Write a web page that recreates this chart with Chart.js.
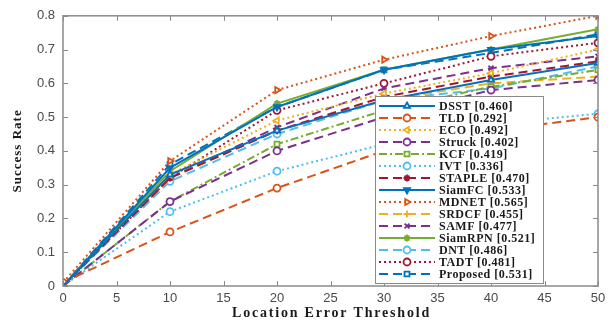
<!DOCTYPE html>
<html>
<head>
<meta charset="utf-8">
<script src="https://cdn.jsdelivr.net/npm/chart.js@4.4.1/dist/chart.umd.min.js"></script>
<style>
html,body{margin:0;padding:0;background:#fff;}
#wrap{width:616px;height:327px;position:relative;}
</style>
</head>
<body>
<div id="wrap"><canvas id="c" width="616" height="327"></canvas></div>
<script>
// Data
const thresholds = [0, 10, 20, 30, 40, 50];
const xTicks = [0, 5, 10, 15, 20, 25, 30, 35, 40, 45, 50];
const yTicks = [0, 0.1, 0.2, 0.3, 0.4, 0.5, 0.6, 0.7, 0.8];
const xTitle = 'Location Error Threshold';
const yTitle = 'Success Rate';
const trackerNames = ['DSST [0.460]','TLD [0.292]','ECO [0.492]','Struck [0.402]','KCF [0.419]','IVT [0.336]','STAPLE [0.470]','SiamFC [0.533]','MDNET [0.565]','SRDCF [0.455]','SAMF [0.477]','SiamRPN [0.521]','DNT [0.486]','TADT [0.481]','Proposed [0.531]'];
const DSST     = [0,    0.33, 0.46, 0.55, 0.61, 0.66];
const TLD      = [0.01, 0.16, 0.29, 0.40, 0.46, 0.50];
const ECO      = [0,    0.33, 0.49, 0.57, 0.63, 0.70];
const Struck   = [0,    0.25, 0.40, 0.50, 0.58, 0.61];
const KCF      = [0,    0.25, 0.42, 0.52, 0.59, 0.64];
const IVT      = [0,    0.22, 0.34, 0.42, 0.48, 0.51];
const STAPLE   = [0,    0.32, 0.46, 0.56, 0.62, 0.665];
const SiamFC   = [0,    0.35, 0.53, 0.64, 0.70, 0.74];
const MDNET    = [0.01, 0.37, 0.58, 0.67, 0.74, 0.80];
const SRDCF    = [0,    0.32, 0.46, 0.55, 0.60, 0.62];
const SAMF     = [0,    0.32, 0.47, 0.585, 0.645, 0.68];
const SiamRPN  = [0,    0.34, 0.54, 0.64, 0.70, 0.76];
const DNT      = [0,    0.31, 0.45, 0.55, 0.585, 0.65];
const TADT     = [0,    0.32, 0.52, 0.60, 0.68, 0.72];
const Proposed = [0,    0.36, 0.53, 0.64, 0.69, 0.745];

const seriesValues = [DSST, TLD, ECO, Struck, KCF, IVT, STAPLE, SiamFC, MDNET, SRDCF, SAMF, SiamRPN, DNT, TADT, Proposed];

// styles
const BLUE='#0072BD', ORANGE='#D95319', YELLOW='#EDB120', PURPLE='#7E2F8E', GREEN='#77AC30', CYAN='#4DBEEE', RED='#A2142F';
const SOLID=[], DASH=[9,5], DOT=[2,3], DASHDOT=[8,3,2,3];
const styles = [
  {c:BLUE,   d:SOLID,   p:'triangle', r:0},
  {c:ORANGE, d:DASH,    p:'circle',   r:0},
  {c:YELLOW, d:DOT,     p:'triangle', r:-90},
  {c:PURPLE, d:DASH,    p:'circle',   r:0},
  {c:GREEN,  d:DASHDOT, p:'rect',     r:0},
  {c:CYAN,   d:DOT,     p:'circle',   r:0},
  {c:RED,    d:DASH,    p:'star',     r:0, fill:true},
  {c:BLUE,   d:SOLID,   p:'triangle', r:180, fill:true},
  {c:ORANGE, d:DOT,     p:'triangle', r:90},
  {c:YELLOW, d:DASH,    p:'cross',    r:0},
  {c:PURPLE, d:DASH,    p:'crossRot', r:0},
  {c:GREEN,  d:SOLID,   p:'star',     r:0},
  {c:CYAN,   d:DASH,    p:'circle',   r:0},
  {c:RED,    d:DOT,     p:'circle',   r:0},
  {c:BLUE,   d:DASH,    p:'rect',     r:0},
];

const datasets = seriesValues.map((vals, i) => ({
  label: trackerNames[i],
  data: thresholds.map((x, j) => ({x: x, y: vals[j]})),
  borderColor: styles[i].c,
  backgroundColor: styles[i].c,
  borderWidth: 2,
  borderDash: styles[i].d,
  pointStyle: styles[i].p,
  pointRotation: styles[i].r,
  pointRadius: 3.5,
  pointBorderWidth: 1.8,
  pointBorderColor: styles[i].c,
  pointBackgroundColor: styles[i].fill ? styles[i].c : '#ffffff',
  tension: 0,
  fill: false
}));

const AXIS_COLOR = '#8a8a8a';
const boxTicks = {
  id: 'boxTicks',
  afterDatasetsDraw(chart) {
    const {ctx, chartArea: a, scales: {x, y}} = chart;
    ctx.save();
    ctx.strokeStyle = AXIS_COLOR;
    ctx.lineWidth = 1.5;
    ctx.setLineDash([]);
    ctx.strokeRect(a.left, a.top, a.right - a.left, a.bottom - a.top);
    ctx.lineWidth = 1;
    const L = 5;
    ctx.beginPath();
    xTicks.forEach(v => {
      const px = Math.round(x.getPixelForValue(v)) + 0.5;
      ctx.moveTo(px, a.bottom); ctx.lineTo(px, a.bottom - L);
      ctx.moveTo(px, a.top); ctx.lineTo(px, a.top + L);
    });
    yTicks.forEach(v => {
      const py = Math.round(y.getPixelForValue(v)) + 0.5;
      ctx.moveTo(a.left, py); ctx.lineTo(a.left + L, py);
      ctx.moveTo(a.right, py); ctx.lineTo(a.right - L, py);
    });
    ctx.stroke();
    ctx.restore();
  }
};

const titles = {
  id: 'titles',
  afterDraw(chart) {
    const {ctx, chartArea: a} = chart;
    ctx.save();
    ctx.fillStyle = '#1a1a1a';
    ctx.textAlign = 'center';
    ctx.textBaseline = 'middle';
    ctx.font = 'bold 14px "Liberation Serif", "Times New Roman", serif';
    ctx.letterSpacing = '1.8px';
    ctx.fillText(xTitle, (a.left + a.right) / 2 + 1, 313);
    ctx.translate(18, (a.top + a.bottom) / 2);
    ctx.rotate(-Math.PI / 2);
    ctx.font = 'bold 13px "Liberation Serif", "Times New Roman", serif';
    ctx.letterSpacing = '1px';
    ctx.fillText(yTitle, 0, 0);
    ctx.restore();
  }
};

const boxLegend = {
  id: 'boxLegend',
  afterDraw(chart) {
    const {ctx} = chart;
    const bx = 375, by = 96, bw = 168, bh = 187;
    ctx.save();
    ctx.fillStyle = '#ffffff';
    ctx.fillRect(bx, by, bw, bh);
    ctx.strokeStyle = AXIS_COLOR;
    ctx.lineWidth = 1;
    ctx.setLineDash([]);
    ctx.strokeRect(bx + 0.5, by + 0.5, bw, bh);
    const rowH = 12, y0 = by + 10;
    chart.data.datasets.forEach((ds, i) => {
      const yy = y0 + i * rowH;
      ctx.strokeStyle = ds.borderColor;
      ctx.lineWidth = 2;
      ctx.setLineDash(ds.borderDash);
      ctx.beginPath();
      ctx.moveTo(379, yy); ctx.lineTo(435, yy);
      ctx.stroke();
      ctx.setLineDash([]);
      ctx.fillStyle = ds.pointBackgroundColor;
      ctx.strokeStyle = ds.pointBorderColor;
      ctx.lineWidth = 1.8;
      Chart.helpers.drawPoint(ctx, {pointStyle: ds.pointStyle, rotation: ds.pointRotation, radius: 3.5, borderWidth: 1.8}, 407, yy);
      ctx.fillStyle = '#1a1a1a';
      ctx.font = 'bold 12px "Liberation Serif", "Times New Roman", serif';
      ctx.letterSpacing = '0.5px';
      ctx.textBaseline = 'middle';
      ctx.textAlign = 'left';
      ctx.fillText(ds.label, 439, yy + 0.5);
    });
    ctx.restore();
  }
};

new Chart(document.getElementById('c'), {
  type: 'line',
  data: {datasets},
  options: {
    responsive: false,
    animation: false,
    layout: {padding: {left: 0, right: 18, top: 8, bottom: 0}},
    plugins: {legend: {display: false}, tooltip: {enabled: false}},
    scales: {
      x: {
        type: 'linear', min: 0, max: 50,
        afterBuildTicks(s) { s.ticks = xTicks.map(v => ({value: v})); },
        afterFit(s) { s.height = 41; },
        grid: {display: false, drawTicks: false},
        border: {display: false},
        ticks: {padding: 5, color: '#4a4a4a', font: {family: '"Liberation Sans", Arial, sans-serif', size: 13}, maxRotation: 0, autoSkip: false},
        title: {display: false}
      },
      y: {
        type: 'linear', min: 0, max: 0.8,
        afterBuildTicks(s) { s.ticks = yTicks.map(v => ({value: v})); },
        afterFit(s) { s.width = 63; },
        grid: {display: false, drawTicks: false},
        border: {display: false},
        ticks: {padding: 8, color: '#4a4a4a', font: {family: '"Liberation Sans", Arial, sans-serif', size: 13}, callback: v => v === 0 ? '0' : v.toFixed(1)},
        title: {display: false}
      }
    }
  },
  plugins: [boxTicks, boxLegend, titles]
});
</script>
</body>
</html>
